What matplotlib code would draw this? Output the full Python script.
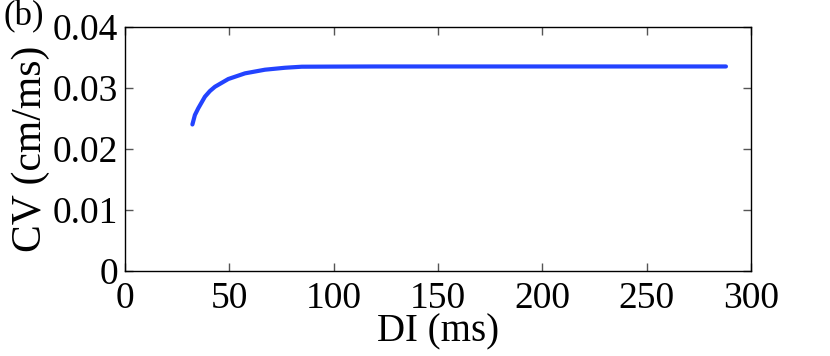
import matplotlib
matplotlib.use("Agg")
import matplotlib.pyplot as plt

di = [32.3, 33.5, 35.1, 38.3, 40.7, 43.1, 49.5, 57.5, 67.1, 76.7, 84.7, 100, 120, 150, 200, 250, 288]
cv = [0.0240, 0.02555, 0.02665, 0.02856, 0.02949, 0.03019, 0.03146, 0.03239, 0.03299, 0.03331,
      0.03348, 0.0335, 0.03352, 0.03352, 0.03352, 0.03352, 0.03352]
xticks = [0, 50, 100, 150, 200, 250, 300]
yticks = [0, 0.01, 0.02, 0.03, 0.04]
yticklabels = ["0", "0.01", "0.02", "0.03", "0.04"]

plt.rcParams['font.family'] = ['Liberation Serif', 'DejaVu Serif']

fig = plt.figure(figsize=(8.3, 3.56), dpi=100)
ax = fig.add_axes([0.1506, 0.2396, 0.7542, 0.6846])
ax.plot(di, cv, color='#2343ff', lw=3.0, solid_capstyle='round', solid_joinstyle='round')
ax.set_xlim(0, 300)
ax.set_ylim(0, 0.04)
ax.set_xticks(xticks)
ax.set_xticklabels([str(t) for t in xticks])
ax.set_yticks(yticks)
ax.set_yticklabels(yticklabels)
ax.tick_params(direction='in', top=True, right=True, length=6, width=1,
               labelsize=27, color='#555555')
ax.tick_params(axis='x', pad=8)
ax.tick_params(axis='y', pad=5)
for s in ax.spines.values():
    s.set_linewidth(1.0)
ax.set_xlabel('DI (ms)', fontsize=28, labelpad=-2)
ax.set_ylabel('CV (cm/ms)', fontsize=30, labelpad=2)
fig.text(0.004, 1.0, '(b)', fontsize=25, ha='left', va='top')
fig.savefig('out.png', dpi=100)
